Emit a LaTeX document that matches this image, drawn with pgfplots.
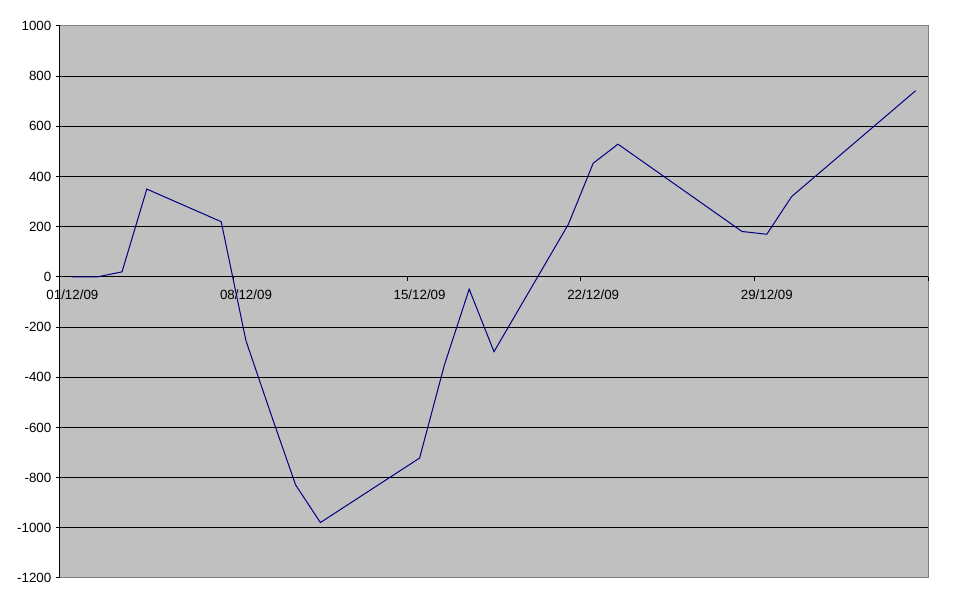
\documentclass[border=0pt]{standalone}
\usepackage{fontspec}
\setmainfont{Liberation Sans}
\usepackage{pgfplots}
\pgfplotsset{compat=1.18}
\definecolor{plotbg}{RGB}{192,192,192}
\definecolor{framegray}{RGB}{128,128,128}
\definecolor{series}{RGB}{0,0,128}
\begin{document}
\begin{tikzpicture}
\begin{axis}[
  scale only axis, width=651pt, height=414pt,
  xmin=-0.5, xmax=34.5, ymin=-1200, ymax=1000,
  axis x line=middle, axis y line=left,
  hide obscured x ticks=false,
  axis line style={-, black, line width=0.75pt},
  axis background/.style={fill=plotbg, draw=framegray, line width=0.75pt},
  xtick={-0.5,6.5,13.5,20.5,27.5,34.5},
  xticklabels={01/12/09,08/12/09,15/12/09,22/12/09,29/12/09,},
  x tick label style={xshift=9.3pt, yshift=-3pt},
  ytick={-1000,-800,-600,-400,-200,0,200,400,600,800},
  extra y ticks={-1200,1000},
  extra y tick style={grid=none},
  ymajorgrids, major grid style={black, line width=0.75pt},
  tick align=outside, major tick length=3pt,
  tick style={black, line width=0.75pt},
  tick label style={font=\fontsize{10}{12}\selectfont},
  /pgf/number format/assume math mode=true,
  /pgf/number format/set thousands separator={},
]
% day index: 0 = 01/12/09
\addplot[series, line width=0.75pt, mark=none] coordinates {
  (0,0) (1,0) (2,20) (3,350) (6,220) (7,-255) (8,-545) (9,-829) (10,-979)
  (14,-722) (15,-351) (16,-49) (17,-298) (20,210) (21,453) (22,529)
  (27,181) (28,170) (29,320) (34,742)
};
\coordinate (ll) at (rel axis cs:0,0);
\coordinate (ur) at (rel axis cs:1,1);
\end{axis}
\path ([shift={(-45pt,-19.5pt)}]ll) rectangle ([shift={(31.5pt,19.5pt)}]ur);
\end{tikzpicture}
\end{document}
